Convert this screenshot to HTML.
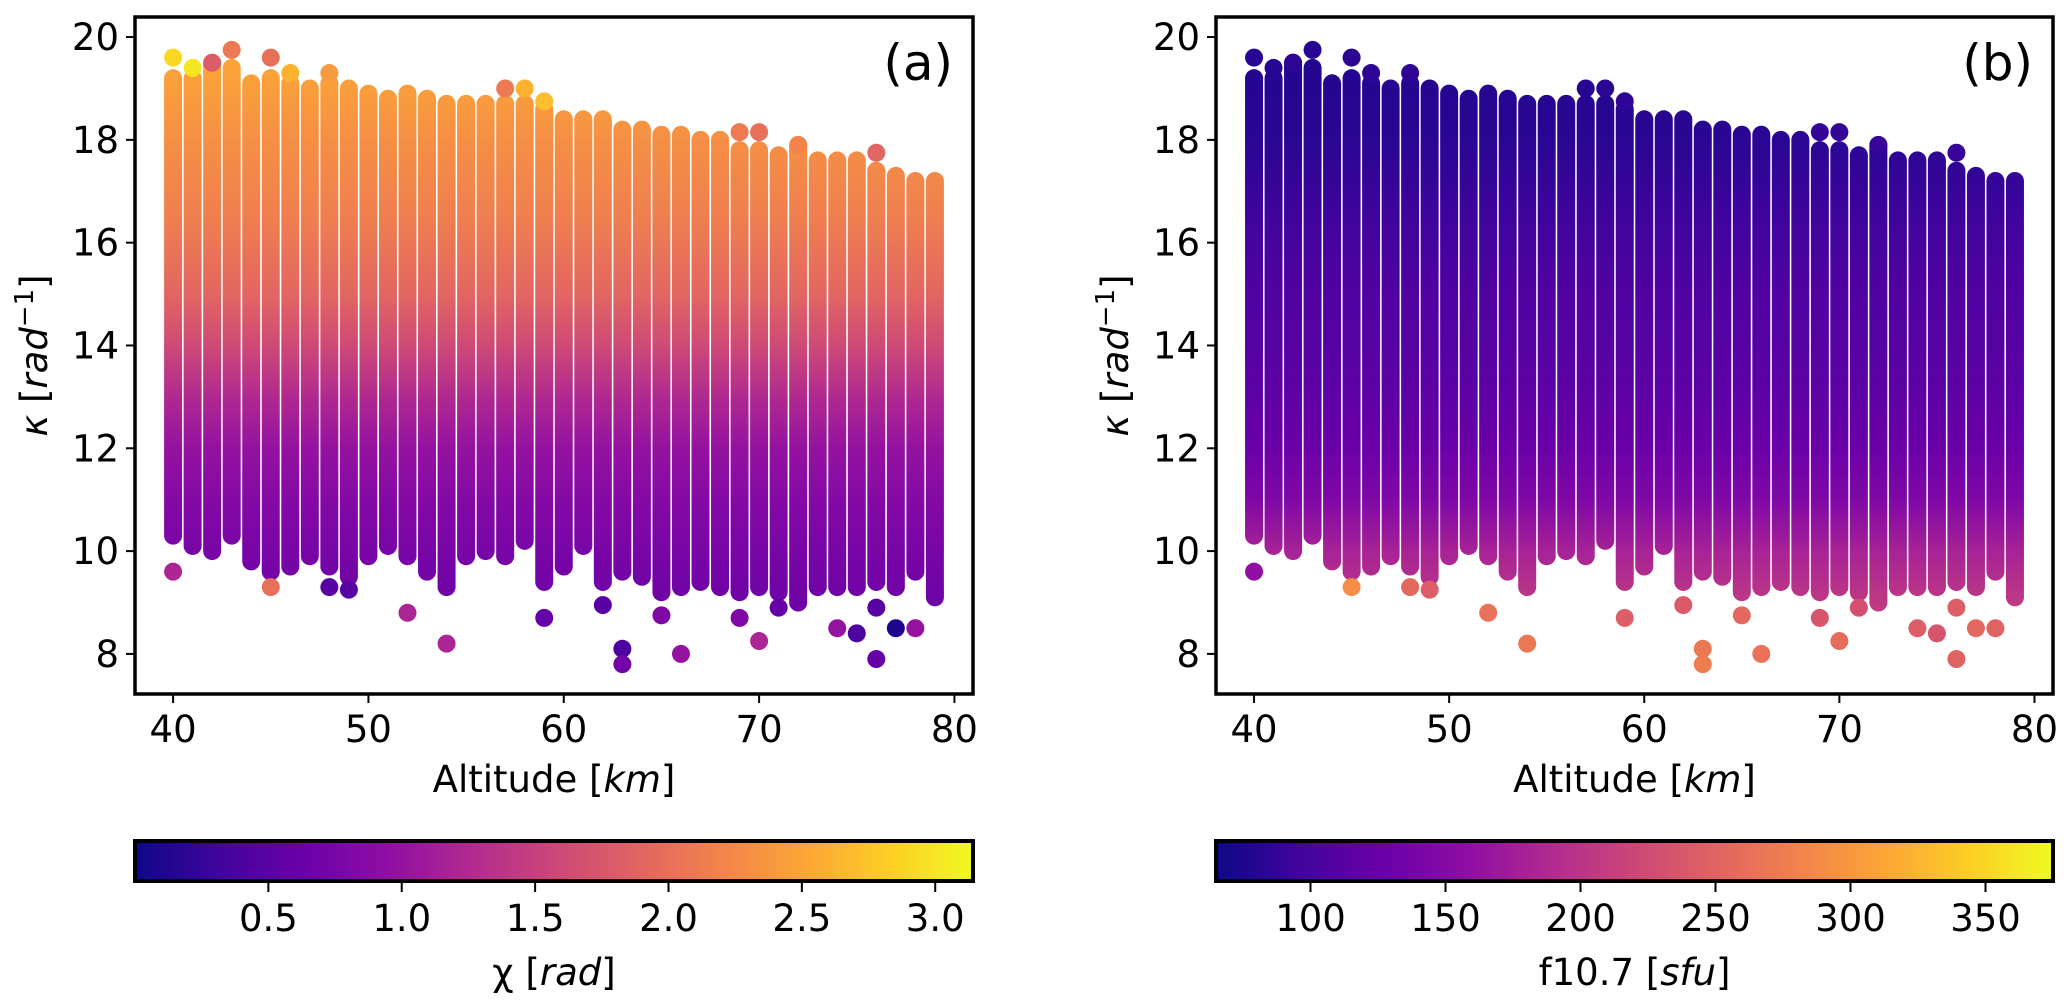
<!DOCTYPE html>
<html><head><meta charset="utf-8"><style>
body{margin:0;background:#fff}
svg{display:block;font-family:"DejaVu Sans","Liberation Sans",sans-serif}
</style></head><body>
<svg id="fig" width="2067" height="1001" viewBox="0 0 2067 1001" xmlns="http://www.w3.org/2000/svg">
<defs>
<linearGradient id="cbgrad" x1="0" x2="1" y1="0" y2="0">
<stop offset="0" stop-color="#0d0887"/><stop offset="0.1" stop-color="#41049d"/><stop offset="0.2" stop-color="#6a00a8"/><stop offset="0.3" stop-color="#8f0da4"/><stop offset="0.4" stop-color="#b12a90"/><stop offset="0.5" stop-color="#cc4778"/><stop offset="0.6" stop-color="#e16462"/><stop offset="0.7" stop-color="#f2844b"/><stop offset="0.8" stop-color="#fca636"/><stop offset="0.9" stop-color="#fcce25"/><stop offset="1" stop-color="#f0f921"/>
</linearGradient>
</defs>
<g id="root"></g>
</svg>
<script>
// ---- data ----
const altitudes = [40,41,42,43,44,45,46,47,48,49,50,51,52,53,54,55,56,57,58,59,60,61,62,63,64,65,66,67,68,69,70,71,72,73,74,75,76,77,78,79];
const stripTop = [19.2,19.2,19.5,19.4,19.1,19.2,19.1,19.0,19.1,19.0,18.9,18.8,18.9,18.8,18.7,18.7,18.7,18.7,18.7,18.6,18.4,18.4,18.4,18.2,18.2,18.1,18.1,18.0,18.0,17.8,17.8,17.7,17.9,17.6,17.6,17.6,17.4,17.3,17.2,17.2];
const stripBottom = [10.3,10.1,10.0,10.3,9.8,9.6,9.7,9.9,9.7,9.5,9.9,10.1,9.9,9.6,9.3,9.9,10.0,9.9,10.2,9.4,9.7,10.1,9.4,9.6,9.5,9.2,9.3,9.4,9.3,9.2,9.3,9.2,9.0,9.3,9.3,9.3,9.4,9.3,9.6,9.1];
// colour gradient along kappa inside strips
const gradKappa = [19.5,18,16.5,15,14,13,12,11,10,8];
const chiAlongKappa = [2.5,2.3,2.15,1.9,1.6,1.25,1.0,0.85,0.75,0.6];
const f107AlongKappa = [78,82,95,108,112,118,128,145,180,230];
// isolated points
const outAlt = [40,41,42,43,45,46,48,57,58,59,69,70,72,76,40,45,48,49,52,54,59,62,63,63,65,66,69,70,71,74,75,76,77,78,76];
const outKappa = [19.6,19.4,19.5,19.75,19.6,19.3,19.3,19.0,19.0,18.75,18.15,18.15,17.9,17.75,9.6,9.3,9.3,9.25,8.8,8.2,8.7,8.95,8.1,7.8,8.75,8.0,8.7,8.25,8.9,8.5,8.4,7.9,8.5,8.5,8.9];
const outChi = [2.9,3.0,1.8,2.1,2.0,2.6,2.4,2.1,2.6,2.7,2.1,2.0,2.2,1.9,1.2,2.0,0.5,0.5,1.2,1.2,0.6,0.5,0.4,0.7,0.8,1.0,0.8,1.2,0.6,1.0,0.4,0.6,0.1,1.0,0.5];
const outF107 = [80,80,85,80,82,85,85,80,82,85,88,88,90,90,160,290,255,245,265,270,245,240,270,275,255,265,235,260,230,245,235,250,255,250,245];
const yTicks = [8,10,12,14,16,18,20];
const xTicks = [40,50,60,70,80];
const cbTicksA = [0.5,1.0,1.5,2.0,2.5,3.0];
const cbTicksB = [100,150,200,250,300,350];

// ---- helpers ----
const NS='http://www.w3.org/2000/svg';
const root=document.getElementById('root');
function mk(tag,attrs,parent){const e=document.createElementNS(NS,tag);for(const k in attrs)e.setAttribute(k,attrs[k]);(parent||root).appendChild(e);return e;}
const plasma=['#0d0887','#41049d','#6a00a8','#8f0da4','#b12a90','#cc4778','#e16462','#f2844b','#fca636','#fcce25','#f0f921'];
function hex(c){return [parseInt(c.slice(1,3),16),parseInt(c.slice(3,5),16),parseInt(c.slice(5,7),16)];}
function cmap(t){t=Math.max(0,Math.min(1,t));const f=t*10,i=Math.min(9,Math.floor(f)),r=f-i;const a=hex(plasma[i]),b=hex(plasma[i+1]);return 'rgb('+a.map((v,k)=>Math.round(v+(b[k]-v)*r)).join(',')+')';}

const panels=[
 {id:'a',L:135,R:973,vals:chiAlongKappa,outVals:outChi,vmin:0,vmax:Math.PI,ticks:cbTicksA,fmt:v=>v.toFixed(1),label:'(a)',cbl:['χ [','rad',']']},
 {id:'b',L:1216,R:2053,vals:f107AlongKappa,outVals:outF107,vmin:65,vmax:375,ticks:cbTicksB,fmt:v=>String(v),label:'(b)',cbl:['f10.7 [','sfu',']']}
];
const T=17,B=694,yMin=7.22,yMax=20.39,xMin=38.05,xMax=80.95;
const R=9;
panels.forEach(p=>{
 const g=mk('g',{});
 
 
 const X=v=>p.L+(v-xMin)/(xMax-xMin)*(p.R-p.L);
 const Y=v=>B-(v-yMin)/(yMax-yMin)*(B-T);
 const C=v=>cmap((v-p.vmin)/(p.vmax-p.vmin));
 const defs=document.querySelector('defs');
 const lg=mk('linearGradient',{id:'sg'+p.id,gradientUnits:'userSpaceOnUse',x1:0,x2:0,y1:Y(gradKappa[0]),y2:Y(gradKappa[gradKappa.length-1])},defs);
 gradKappa.forEach((k,i)=>{mk('stop',{offset:(Y(k)-Y(gradKappa[0]))/(Y(gradKappa[gradKappa.length-1])-Y(gradKappa[0])),'stop-color':C(p.vals[i])},lg);});
 altitudes.forEach((a,i)=>{
  const y1=Y(stripTop[i]),y2=Y(stripBottom[i]);
  const r=mk('rect',{x:X(a)-R,y:y1-R,width:2*R,height:y2-y1+2*R,rx:R,ry:R,fill:'url(#sg'+p.id+')'},g);
  
  
 });
 outAlt.forEach((a,i)=>{
  const c=mk('circle',{cx:X(a),cy:Y(outKappa[i]),r:R,fill:C(p.outVals[i])},g);
  
  
 });
 const fr=mk('rect',{x:p.L,y:T,width:p.R-p.L,height:B-T,fill:'none',stroke:'#000','stroke-width':3.5},g);
 
 
 yTicks.forEach(v=>{
  mk('line',{x1:p.L-9,x2:p.L,y1:Y(v),y2:Y(v),stroke:'#000','stroke-width':2},g);
  const t=mk('text',{x:p.L-16,y:Y(v)+13,'text-anchor':'end','font-size':37},g);t.textContent=v;
  
  
 });
 xTicks.forEach(v=>{
  mk('line',{x1:X(v),x2:X(v),y1:B,y2:B+9,stroke:'#000','stroke-width':2},g);
  const t=mk('text',{x:X(v),y:B+48,'text-anchor':'middle','font-size':37},g);t.textContent=v;
  
  
 });
 const xl=mk('text',{x:(p.L+p.R)/2,y:792,'text-anchor':'middle','font-size':37},g);
 xl.innerHTML='Altitude [<tspan font-style="italic">km</tspan>]';
 
 
 const yl=mk('text',{x:0,y:0,'text-anchor':'middle','font-size':37,transform:'translate('+(p.L-88)+','+((T+B)/2)+') rotate(-90)'},g);
 yl.innerHTML='<tspan font-style="italic">κ</tspan> [<tspan font-style="italic">rad</tspan><tspan dy="-14" font-size="26">−1</tspan><tspan dy="14">]</tspan>';
 
 
 const pl=mk('text',{x:p.R-20,y:80,'text-anchor':'end','font-size':50},g);pl.textContent=p.label;
 
 
 const cb=mk('rect',{x:p.L,y:841,width:p.R-p.L,height:40,fill:'url(#cbgrad)',stroke:'#000','stroke-width':4},g);
 
 
 const CX=v=>p.L+(v-p.vmin)/(p.vmax-p.vmin)*(p.R-p.L);
 p.ticks.forEach(v=>{
  mk('line',{x1:CX(v),x2:CX(v),y1:883,y2:892,stroke:'#000','stroke-width':2},g);
  const t=mk('text',{x:CX(v),y:931,'text-anchor':'middle','font-size':37},g);t.textContent=p.fmt(v);
  
  
 });
 const cl=mk('text',{x:(p.L+p.R)/2,y:985,'text-anchor':'middle','font-size':37},g);
 cl.innerHTML=p.cbl[0]+'<tspan font-style="italic">'+p.cbl[1]+'</tspan>'+p.cbl[2];
 
 
});
</script>
</body></html>
